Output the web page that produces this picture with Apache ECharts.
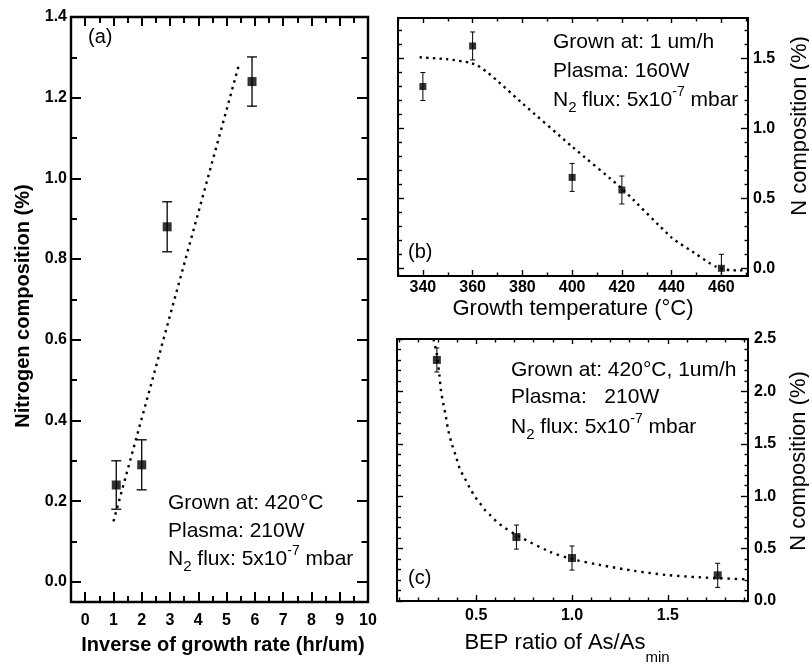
<!DOCTYPE html>
<html><head><meta charset="utf-8">
<script src="https://cdn.jsdelivr.net/npm/echarts@6/dist/echarts.min.js"></script>
<style>html,body{margin:0;padding:0;background:#fff}#c{width:809px;height:667px}</style>
</head><body><div id="c"></div>
<script>
// ---------- Panel (a): N composition vs inverse growth rate ----------
const aX   = [1.1, 2.0, 2.9, 5.9];
const aY   = [0.24, 0.29, 0.88, 1.24];
const aErr = [0.06, 0.062, 0.062, 0.061];
const aFitX = [1.0, 5.43];
const aFitY = [0.15, 1.28];
const aXTickLabels = [0, 1, 2, 3, 4, 5, 6, 7, 8, 9, 10];
const aXMinorTicks = [-0.5, 0.5, 1.5, 2.5, 3.5, 4.5, 5.5, 6.5, 7.5, 8.5, 9.5];
const aYTickLabels = [0.0, 0.2, 0.4, 0.6, 0.8, 1.0, 1.2, 1.4];
const aYMinorTicks = [0.1, 0.3, 0.5, 0.7, 0.9, 1.1, 1.3];

// ---------- Panel (b): N composition vs growth temperature ----------
const bX   = [340, 360, 400, 420, 460];
const bY   = [1.30, 1.59, 0.65, 0.56, 0.0];
const bErr = [0.1, 0.1, 0.1, 0.1, 0.1];
const bFitX = [338.7, 350, 358.8, 362, 366, 370, 380, 400, 420, 440, 450, 455, 458, 462, 466, 470.7];
const bFitY = [1.509, 1.495, 1.471, 1.45, 1.40, 1.34, 1.18, 0.87, 0.57, 0.22, 0.10, 0.04, 0.01, -0.01, -0.015, -0.015];
const bXTickLabels = [340, 360, 380, 400, 420, 440, 460];
const bXMinorTicks = [330, 350, 370, 390, 410, 430, 450, 470];
const bYTickLabels = [0.0, 0.5, 1.0, 1.5];
const bYMinorTicks = [0.1, 0.2, 0.3, 0.4, 0.6, 0.7, 0.8, 0.9, 1.1, 1.2, 1.3, 1.4, 1.6, 1.7];

// ---------- Panel (c): N composition vs BEP ratio ----------
const cX   = [0.295, 0.71, 1.0, 1.76];
const cY   = [2.30, 0.61, 0.41, 0.245];
const cErr = [0.115, 0.115, 0.115, 0.115];
const cFitX = [0.277, 0.285, 0.294, 0.308, 0.316, 0.328, 0.342, 0.354, 0.372, 0.395, 0.415, 0.441, 0.468, 0.494, 0.52, 0.546, 0.572, 0.607, 0.641, 0.72, 0.885, 1.006, 1.146, 1.32, 1.494, 1.667, 1.911];
const cFitY = [2.5, 2.443, 2.364, 2.157, 2.013, 1.886, 1.759, 1.632, 1.505, 1.377, 1.26, 1.17, 1.075, 0.995, 0.932, 0.868, 0.821, 0.757, 0.709, 0.62, 0.47, 0.398, 0.344, 0.289, 0.248, 0.226, 0.207];
const cXTickLabels = [0.5, 1.0, 1.5];
const cXMinorTicks = [0.1, 0.2, 0.3, 0.4, 0.6, 0.7, 0.8, 0.9, 1.1, 1.2, 1.3, 1.4, 1.6, 1.7, 1.8, 1.9];
const cYTickLabels = [0.0, 0.5, 1.0, 1.5, 2.0, 2.5];
const cYMinorTicks = [0.1, 0.2, 0.3, 0.4, 0.6, 0.7, 0.8, 0.9, 1.1, 1.2, 1.3, 1.4, 1.6, 1.7, 1.8, 1.9, 2.1, 2.2, 2.3, 2.4];

const FONT = '"Liberation Sans", Arial, Helvetica, sans-serif';

const G = {
  a: {left: 71, top: 17, width: 297, height: 585, xMin: -0.5, xMax: 10, yMin: -0.05, yMax: 1.4},
  b: {left: 398, top: 18, width: 350, height: 258, xMin: 330, xMax: 470.7, yMin: -0.055, yMax: 1.79},
  c: {left: 397, top: 339, width: 351, height: 262, xMin: 0.087, xMax: 1.918, yMin: 0, yMax: 2.5}
};

function axis(grid, pos, min, max, ticks, len, tw, label) {
  return {
    type: 'value', gridIndex: grid, position: pos, min: min, max: max, offset: 0,
    axisLine: {show: false, onZero: false}, splitLine: {show: false},
    axisTick: {show: true, inside: true, length: len, customValues: ticks,
               lineStyle: {color: '#000', width: tw}},
    axisLabel: label ? Object.assign({show: true, customValues: ticks, color: '#000',
               fontFamily: FONT, fontWeight: 'bold', fontSize: 16}, label) : {show: false}
  };
}
const f1 = v => v.toFixed(1);
const f0 = v => String(Math.round(v));

const xAxes = [
  axis(0, 'bottom', G.a.xMin, G.a.xMax, aXTickLabels, 10, 2, {margin: 11, formatter: f0}),
  axis(1, 'bottom', G.b.xMin, G.b.xMax, bXTickLabels, 6, 1.4, {margin: 4, formatter: f0}),
  axis(2, 'bottom', G.c.xMin, G.c.xMax, cXTickLabels, 6, 1.4, {margin: 7, formatter: f1}),
  axis(0, 'bottom', G.a.xMin, G.a.xMax, aXMinorTicks, 6, 2),
  axis(0, 'top', G.a.xMin, G.a.xMax, aXTickLabels, 9, 2),
  axis(0, 'top', G.a.xMin, G.a.xMax, aXMinorTicks, 6, 2),
  axis(1, 'bottom', G.b.xMin, G.b.xMax, bXMinorTicks, 3.5, 1.4),
  axis(1, 'top', G.b.xMin, G.b.xMax, bXTickLabels, 5, 1.4),
  axis(1, 'top', G.b.xMin, G.b.xMax, bXMinorTicks, 3.5, 1.4),
  axis(2, 'bottom', G.c.xMin, G.c.xMax, cXMinorTicks, 3.5, 1.4),
  axis(2, 'top', G.c.xMin, G.c.xMax, cXTickLabels, 5, 1.4),
  axis(2, 'top', G.c.xMin, G.c.xMax, cXMinorTicks, 3.5, 1.4)
];
const yAxes = [
  axis(0, 'left', G.a.yMin, G.a.yMax, aYTickLabels, 10, 2, {margin: 4, formatter: f1}),
  axis(1, 'right', G.b.yMin, G.b.yMax, bYTickLabels, 7, 1.4, {margin: 5, formatter: f1}),
  axis(2, 'right', G.c.yMin, G.c.yMax, cYTickLabels, 7, 1.4, {margin: 6, formatter: f1}),
  axis(0, 'left', G.a.yMin, G.a.yMax, aYMinorTicks, 6, 2),
  axis(0, 'right', G.a.yMin, G.a.yMax, aYTickLabels, 11, 2),
  axis(0, 'right', G.a.yMin, G.a.yMax, aYMinorTicks, 6.5, 2),
  axis(1, 'left', G.b.yMin, G.b.yMax, bYTickLabels, 6, 1.4),
  axis(1, 'left', G.b.yMin, G.b.yMax, bYMinorTicks, 4, 1.4),
  axis(1, 'right', G.b.yMin, G.b.yMax, bYMinorTicks, 3.5, 1.4),
  axis(2, 'left', G.c.yMin, G.c.yMax, cYTickLabels, 6, 1.4),
  axis(2, 'left', G.c.yMin, G.c.yMax, cYMinorTicks, 4, 1.4),
  axis(2, 'right', G.c.yMin, G.c.yMax, cYMinorTicks, 3.5, 1.4)
];

function zip(X, Y) { return X.map((x, i) => [x, Y[i]]); }

function fitSeries(i, X, Y, dash, smooth) {
  return {type: 'line', xAxisIndex: i, yAxisIndex: i, data: zip(X, Y), showSymbol: false,
    symbol: 'none', smooth: smooth, clip: true, silent: true, z: 2,
    lineStyle: {color: '#000', width: 2.4, type: dash, cap: 'butt'}};
}
function errSeries(i, X, Y, E, cap, lw) {
  return {type: 'custom', xAxisIndex: i, yAxisIndex: i, clip: true, silent: true, z: 3,
    data: X.map((x, k) => [x, Y[k], E[k]]),
    encode: {x: 0, y: 1},
    renderItem: function (params, api) {
      const x = api.value(0), y = api.value(1), e = api.value(2);
      const p1 = api.coord([x, y + e]), p2 = api.coord([x, y - e]);
      const st = {stroke: '#000', lineWidth: lw};
      return {type: 'group', children: [
        {type: 'line', shape: {x1: p1[0], y1: p1[1], x2: p2[0], y2: p2[1]}, style: st},
        {type: 'line', shape: {x1: p1[0] - cap / 2, y1: p1[1], x2: p1[0] + cap / 2, y2: p1[1]}, style: st},
        {type: 'line', shape: {x1: p2[0] - cap / 2, y1: p2[1], x2: p2[0] + cap / 2, y2: p2[1]}, style: st}
      ]};
    }};
}
function ptSeries(i, X, Y, size) {
  return {type: 'scatter', xAxisIndex: i, yAxisIndex: i, data: zip(X, Y), symbol: 'rect',
    symbolSize: size, silent: true, z: 4, itemStyle: {color: '#000'}};
}

const annRich = {
  n: {fontFamily: FONT, fontSize: 21, lineHeight: 30, color: '#000'},
  sub: {fontFamily: FONT, fontSize: 15, lineHeight: 12, verticalAlign: 'bottom', color: '#000'},
  sup: {fontFamily: FONT, fontSize: 14, lineHeight: 12, verticalAlign: 'top', color: '#000'}
};
function ann(x, y, txt) {
  return {type: 'text', x: x, y: y, silent: true,
    style: {text: txt, rich: annRich, align: 'left', verticalAlign: 'middle'}};
}
function plain(x, y, txt, size, weight, rot, align) {
  return {type: 'text', x: x, y: y, rotation: rot || 0, silent: true,
    style: {text: txt, fontFamily: FONT, fontSize: size, fontWeight: weight || 'normal',
            fill: '#000', align: align || 'center', verticalAlign: 'middle'}};
}
const fluxLine = '{n|N}{sub|2}{n| flux: 5x10}{sup|-7}{n| mbar}';

const option = {
  animation: false,
  backgroundColor: '#fff',
  grid: ['a', 'b', 'c'].map(k => ({left: G[k].left, top: G[k].top, width: G[k].width, height: G[k].height,
    show: true, borderColor: '#000', borderWidth: k === 'a' ? 2.4 : 2, backgroundColor: 'transparent'})),
  xAxis: xAxes,
  yAxis: yAxes,
  series: [
    fitSeries(0, aFitX, aFitY, [2.4, 4.6], false),
    errSeries(0, aX, aY, aErr, 10, 1.3),
    ptSeries(0, aX, aY, 9),
    fitSeries(1, bFitX, bFitY, [2.4, 4.2], 0.2),
    errSeries(1, bX, bY, bErr, 5, 1),
    ptSeries(1, bX, bY, 7),
    fitSeries(2, cFitX, cFitY, [2.4, 4.8], 0.3),
    errSeries(2, cX, cY, cErr, 5, 1),
    ptSeries(2, cX, cY, 8)
  ],
  graphic: [
    plain(88, 37, '(a)', 20, 'normal', 0, 'left'),
    plain(408, 252, '(b)', 20, 'normal', 0, 'left'),
    plain(408, 578, '(c)', 20, 'normal', 0, 'left'),
    ann(168, 503, '{n|Grown at: 420°C}'),
    ann(168, 531, '{n|Plasma: 210W}'),
    ann(168, 559, fluxLine),
    ann(553, 42, '{n|Grown at: 1 um/h}'),
    ann(553, 71, '{n|Plasma: 160W}'),
    ann(553, 100, fluxLine),
    ann(511, 370, '{n|Grown at: 420°C, 1um/h}'),
    ann(511, 397, '{n|Plasma:   210W}'),
    ann(511, 427, fluxLine),
    plain(23, 306, 'Nitrogen composition (%)', 20, 'bold', Math.PI / 2),
    plain(223, 645, 'Inverse of growth rate (hr/um)', 20, 'bold'),
    plain(573, 309, 'Growth temperature (°C)', 22, 'normal'),
    plain(800, 126, 'N composition (%)', 22, 'normal', Math.PI / 2),
    plain(799, 461, 'N composition (%)', 22, 'normal', Math.PI / 2),
    {type: 'text', x: 567, y: 643, silent: true,
     style: {text: '{t|BEP ratio of As/As}{s|min}', align: 'center', verticalAlign: 'middle',
       rich: {t: {fontFamily: FONT, fontSize: 22, lineHeight: 44, color: '#000'},
              s: {fontFamily: FONT, fontSize: 15, lineHeight: 15, verticalAlign: 'bottom', color: '#000'}}}}
  ]
};

const chart = echarts.init(document.getElementById('c'), null, {renderer: 'canvas'});
chart.setOption(option);
</script>
</body></html>
